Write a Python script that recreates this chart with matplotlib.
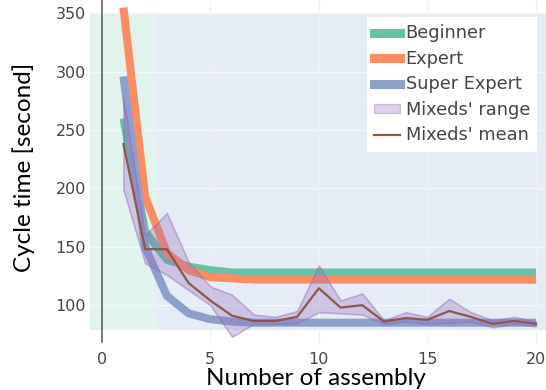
import matplotlib
matplotlib.use("Agg")
import matplotlib.pyplot as plt
from matplotlib.patches import Rectangle, Patch
from matplotlib.lines import Line2D
import numpy as np

# ---------------- data ----------------
assembly = list(range(1, 21))
beginner = [260, 163, 139, 133, 130, 128, 128, 128, 128, 128,
            128, 128, 128, 128, 128, 128, 128, 128, 128, 128]
expert = [355, 193, 145, 130, 124, 123, 122, 122, 122, 122,
          122, 122, 122, 122, 122, 122, 122, 122, 122, 122]
super_expert = [296, 150, 108, 93, 88, 86, 85, 85, 85, 85,
                85, 85, 85, 85, 85, 85, 85, 85, 85, 85]
mixed_mean = [238, 148, 148, 119, 104, 91, 86.5, 86.5, 90, 114.5,
              98, 100, 86, 89, 87.5, 95, 90, 84, 86.5, 84]
mixed_upper = [277, 160, 179, 137, 116, 109, 92, 90, 95, 134,
               104, 110, 87, 94, 90, 105.5, 94, 87, 90, 86]
mixed_lower = [199, 136, 126, 113, 100, 73, 84, 84, 84.5, 94,
               93, 92, 84, 86, 84, 85, 86, 81, 84, 82]
x_ticks = [0, 5, 10, 15, 20]
y_ticks = [100, 150, 200, 250, 300, 350]
phase_split = 2.5
series_names = ["Beginner", "Expert", "Super Expert", "Mixeds' range", "Mixeds' mean"]

# ---------------- style ----------------
c_green = "#66c2a5"
c_orange = "#fc8d62"
c_blue = "#8da0cb"
c_purple = (148/255, 103/255, 189/255)
c_brown = "#8c564b"

W, H = 546, 390
fig = plt.figure(figsize=(W/100, H/100), dpi=100)
ax = fig.add_axes([90/W, 45/H, 456/W, 345/H])
ax.set_facecolor("white")
xmin, xmax = -0.54, 20.46
ymin, ymax = 65.9, 361.5
ax.set_xlim(xmin, xmax)
ax.set_ylim(ymin, ymax)

plot_bottom, plot_top = 79, 350
ax.add_patch(Rectangle((xmin, plot_bottom), phase_split - xmin, plot_top - plot_bottom,
                       facecolor="#e0f3ed", edgecolor="none", zorder=0))
ax.add_patch(Rectangle((phase_split, plot_bottom), xmax - phase_split + 0.5, plot_top - plot_bottom,
                       facecolor="#e5ecf6", edgecolor="none", zorder=0))

# gridlines
for yv in y_ticks:
    ax.plot([xmin, xmax], [yv, yv], color="#f3f6fa", lw=1, zorder=0.5)
for xv in x_ticks[1:]:
    ax.plot([xv, xv], [ymin, ymax], color="#eef1f6", lw=1, zorder=0.5)
# zero line
ax.plot([0, 0], [68.4, ymax], color="#555555", lw=1.1, zorder=0.6)

lw_thick = 5.8
ax.plot(assembly, beginner, color=c_green, lw=lw_thick, solid_capstyle="butt", zorder=2)
ax.plot(assembly, expert, color=c_orange, lw=lw_thick, solid_capstyle="butt", zorder=2.1)
ax.plot(assembly, super_expert, color=c_blue, lw=lw_thick, solid_capstyle="butt", zorder=2.2)
ax.fill_between(assembly, mixed_lower, mixed_upper, facecolor=(*c_purple, 0.3),
                edgecolor=(*c_purple, 0.45), lw=1.2, zorder=2.5)
ax.plot(assembly, mixed_mean, color=c_brown, lw=1.6, zorder=3)

ax.set_xticks(x_ticks)
ax.set_yticks(y_ticks)
ax.tick_params(axis="both", length=0, labelsize=11.5, labelcolor="#444444")
ax.tick_params(axis="y", pad=3)
ax.tick_params(axis="x", pad=5)
for s in ax.spines.values():
    s.set_visible(False)

fig.text(315.5/W, 5/H, "Number of assembly", family="Lato", fontsize=17.5,
         ha="center", va="baseline", color="black")
fig.text(24/W, 1 - 167/H, "Cycle time [second]", family="Lato", fontsize=17.5,
         ha="center", va="center", rotation=90, color="black")

handles = [
    Line2D([0], [0], color=c_green, lw=6.5),
    Line2D([0], [0], color=c_orange, lw=6.5),
    Line2D([0], [0], color=c_blue, lw=6.5),
    Patch(facecolor=(*c_purple, 0.3), edgecolor=(*c_purple, 0.35), lw=1),
    Line2D([0], [0], color=c_brown, lw=1.6),
]
leg = ax.legend(handles, series_names, loc="upper left",
                bbox_to_anchor=(367/W, 1 - 17/H), bbox_transform=fig.transFigure,
                fontsize=12.8, handlelength=1.45, handleheight=0.45, handletextpad=0.3,
                labelspacing=0.42, borderpad=0.42, borderaxespad=0,
                frameon=True, fancybox=False, edgecolor="none", facecolor="white", framealpha=1)
for t in leg.get_texts():
    t.set_color("#444444")
leg.set_zorder(10)

fig.savefig("out.png", dpi=100)
